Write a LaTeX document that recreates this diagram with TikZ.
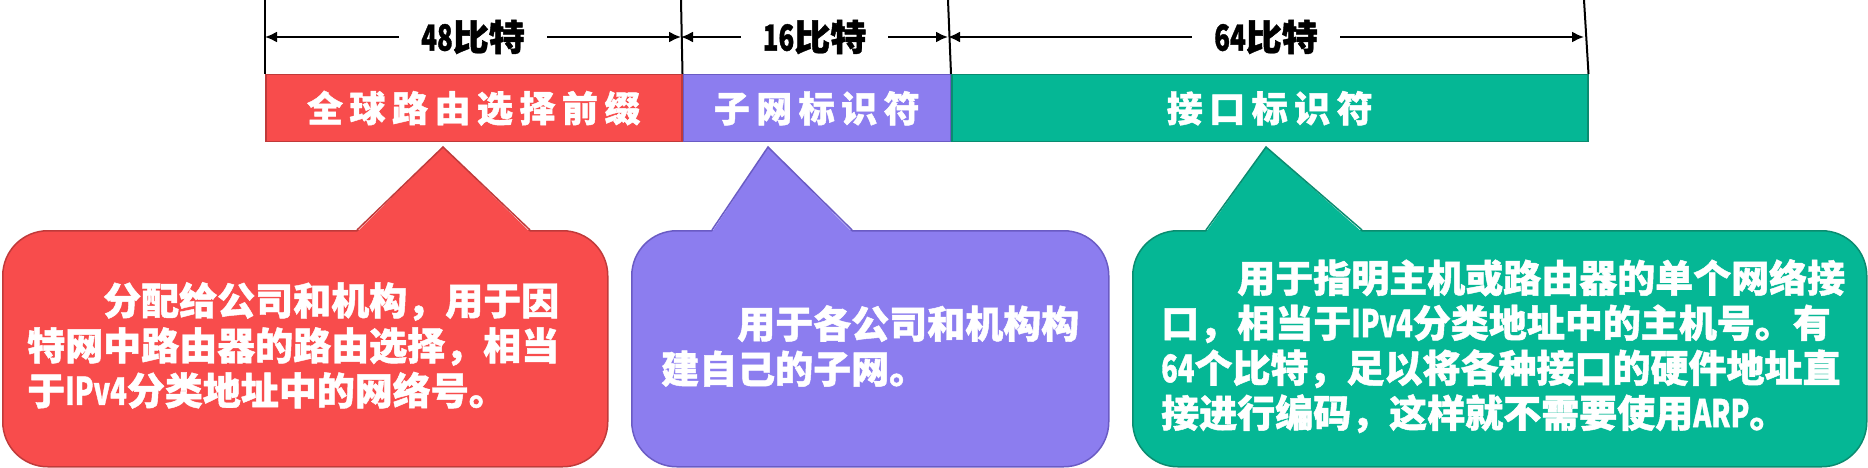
\documentclass[tikz,border=0pt]{standalone}
\usepackage{fontspec}
\setmainfont{Noto Sans CJK SC}[BoldFeatures={FakeBold=1.2}]
\usetikzlibrary{arrows.meta,positioning}

\definecolor{prefixred}{HTML}{F84C4C}
\definecolor{prefixedge}{HTML}{C03A3A}
\definecolor{subnetpurple}{HTML}{8C7DEF}
\definecolor{subnetedge}{HTML}{6A5BC4}
\definecolor{ifacegreen}{HTML}{05B795}
\definecolor{ifaceedge}{HTML}{0A8C70}

% narrow latin digits and letters
\newcommand{\nar}[1]{\scalebox{0.72}[1]{#1}}

\tikzset{
  field/.style={minimum height=67pt, inner sep=0pt, line width=1.5pt, text=white,
    font=\fontsize{36}{36}\selectfont\bfseries\addfontfeature{LetterSpace=18}},
  dimline/.style={line width=2pt, {Latex[length=12pt,width=11pt]}-{Latex[length=12pt,width=11pt]}},
  dimlabel/.style={fill=white, inner xsep=22pt, inner ysep=2pt,
    font=\fontsize{36}{36}\selectfont\bfseries},
  note/.style={rounded corners=45pt, line width=1.5pt, inner sep=0pt, minimum height=236pt},
  notetext/.style={text=white, align=left, inner sep=0pt,
    font=\fontsize{38}{45}\selectfont\bfseries}
}

\begin{document}
\begin{tikzpicture}[x=1pt,y=-1pt]

\useasboundingbox (0,0) rectangle (1868,468);

% Draw the three fields of the address
\node[field, fill=prefixred, draw=prefixedge, minimum width=416pt, anchor=north west] (gp) at (265,74) {全球路由选择前缀};
\node[field, fill=subnetpurple, draw=subnetedge, minimum width=267pt, anchor=north west] (sub) at (gp.north east) {子网标识符};
\node[field, fill=ifacegreen, draw=ifaceedge, minimum width=636pt, anchor=north west] (iid) at (sub.north east) {接口标识符};

% Draw the tick lines above the fields
\coordinate (t0) at (265,0);
\coordinate (t1) at (681,0);
\coordinate (t2) at (948,0);
\coordinate (t3) at (1584,0);
\draw[line width=2pt] (t0) -- (gp.north west);
\draw[line width=2pt] (t1) -- (gp.north east);
\draw[line width=2pt] (t2) -- (sub.north east);
\draw[line width=2pt] (t3) -- (iid.north east);

% Draw the bit counts
\coordinate (d0) at (265,37);
\coordinate (d1) at (681,37);
\coordinate (d2) at (948,37);
\coordinate (d3) at (1584,37);
\draw[dimline] (d0) -- node[dimlabel] (gpbits) {\nar{48}比特} (d1);
\draw[dimline] (d1) -- node[dimlabel] (subbits) {\nar{16}比特} (d2);
\draw[dimline] (d2) -- node[dimlabel] (iidbits) {\nar{64}比特} (d3);

% Draw the callout boxes
\node[note, fill=prefixred, draw=prefixedge, minimum width=605pt, anchor=north west] (gpbox) at (2,230) {};
\node[note, fill=subnetpurple, draw=subnetedge, minimum width=477pt, anchor=north west] (subbox) at (631,230) {};
\node[note, fill=ifacegreen, draw=ifaceedge, minimum width=734pt, anchor=north west] (iidbox) at (1132,230) {};

% Draw the tails of the callouts
\coordinate (gptip) at (443,147);
\coordinate (subtip) at (768,147);
\coordinate (iidtip) at (1266,147);
\fill[prefixred] (357,232) -- (gptip) -- (530,232) -- cycle;
\draw[prefixedge, line width=1.5pt] (357,230) -- (gptip) -- (530,230);
\fill[subnetpurple] (712,232) -- (subtip) -- (852,232) -- cycle;
\draw[subnetedge, line width=1.5pt] (712,230) -- (subtip) -- (852,230);
\fill[ifacegreen] (1206,232) -- (iidtip) -- (1362,232) -- cycle;
\draw[ifaceedge, line width=1.5pt] (1206,230) -- (iidtip) -- (1362,230);

% Texts of the callouts
\node[notetext, anchor=north west] (gptext) at (27,282)
  {\hspace*{2em}分配给公司和机构，用于因\\特网中路由器的路由选择，相当\\于\nar{IPv4}分类地址中的网络号。};
\node[notetext, anchor=north west] (subtext) at (661,305)
  {\hspace*{2em}用于各公司和机构构\\建自己的子网。};
\node[notetext, anchor=north west] (iidtext) at (1161,259)
  {\hspace*{2em}用于指明主机或路由器的单个网络接\\口，相当于\nar{IPv4}分类地址中的主机号。有\\\nar{64}个比特，足以将各种接口的硬件地址直\\接进行编码，这样就不需要使用\nar{ARP}。};

\end{tikzpicture}
\end{document}
